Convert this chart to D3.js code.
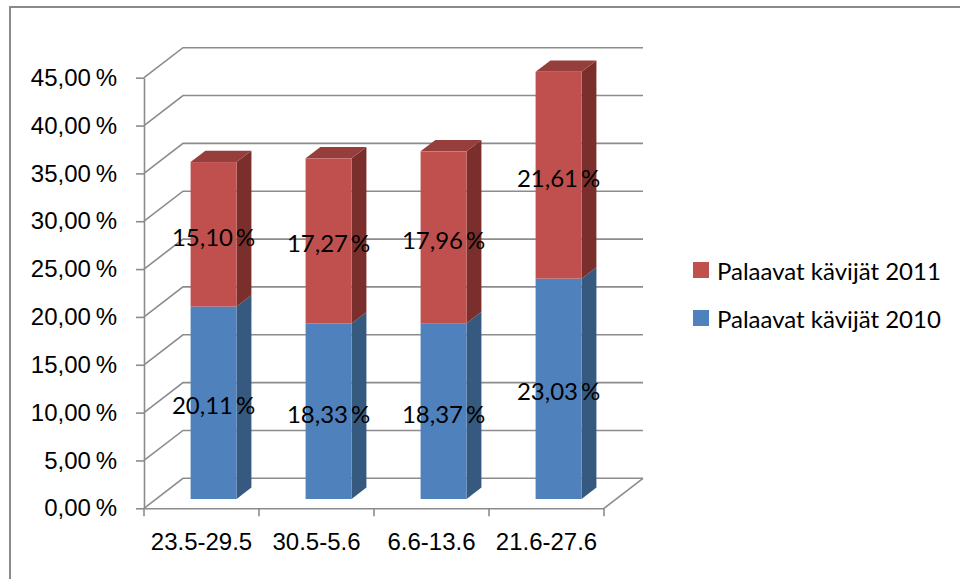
<!DOCTYPE html>
<html>
<head>
<meta charset="utf-8">
<script src="https://cdn.jsdelivr.net/npm/d3@7"></script>
<style>
  html, body { margin: 0; padding: 0; background: #fff; }
  svg { display: block; font-family: Lato, "Open Sans", sans-serif; }
</style>
</head>
<body>
<svg id="chart" width="960" height="579"></svg>
<script>
// Returning visitors per week, stacked by year
const categories = ["23.5-29.5", "30.5-5.6", "6.6-13.6", "21.6-27.6"];
const visitors2010 = [20.11, 18.33, 18.37, 23.03];
const visitors2011 = [15.10, 17.27, 17.96, 21.61];
const yTicks = [0, 5, 10, 15, 20, 25, 30, 35, 40, 45];
const seriesNames = ["Palaavat kävijät 2010", "Palaavat kävijät 2011"];

const colors = {
  blue:  { front: "#4f81bd", side: "#35597f", top: "#3e6696" },
  red:   { front: "#c0504d", side: "#7b2f2d", top: "#963e3b" }
};
const gridColor = "#8c8c8c";
const fontSize = 24;

const svg = d3.select("#chart");

// Outer chart frame
svg.append("rect")
  .attr("x", 10).attr("y", 7)
  .attr("width", 980).attr("height", 600)
  .attr("fill", "none")
  .attr("stroke", "#8a8a8a")
  .attr("stroke-width", 2);

// Oblique 3D projection: depth 0 = front plane, depth 1 = back wall
const DX = 39, DY = -30;
const x = d3.scaleBand().domain(categories).range([144, 604])
  .paddingInner(0.6).paddingOuter(0.3);
const y = d3.scaleLinear().domain([0, 45]).range([508.3, 77.7]);
const proj = (px, v, d) => [px + d * DX, y(v) + d * DY];

// Finnish percentage format with a narrow space before the sign
const fmt = v => d3.format(".2f")(v).replace(".", ",") + "\u2009%";

const walls = svg.append("g")
  .attr("fill", "none")
  .attr("stroke", gridColor)
  .attr("stroke-width", 1.6);

const x0 = x.range()[0], x1 = x.range()[1];

// Back wall gridlines and side wall diagonals
yTicks.forEach(t => {
  const a = proj(x0, t, 0), b = proj(x0, t, 1), c = proj(x1, t, 1);
  walls.append("path").attr("d", d3.line()([a, b, c]));
});
// Floor right edge
walls.append("path").attr("d", d3.line()([proj(x1, 0, 0), proj(x1, 0, 1)]));

// Stacked bars as prisms
const stackData = categories.map((c, i) => ({ cat: c, s2010: visitors2010[i], s2011: visitors2011[i] }));
const stacked = d3.stack().keys(["s2010", "s2011"])(stackData);
const segColors = [colors.blue, colors.red];

const D0 = 0.31, D1 = 0.69;
const bars = svg.append("g");

stacked.forEach((layer, li) => {
  const col = segColors[li];
  layer.forEach((seg, i) => {
    const cat = categories[i];
    const left = x(cat), right = x(cat) + x.bandwidth();
    const lo = seg[0], hi = seg[1];
    const g = bars.append("g");
    // right side face
    g.append("path")
      .attr("d", d3.line()([proj(right, lo, D0), proj(right, lo, D1), proj(right, hi, D1), proj(right, hi, D0)]) + "Z")
      .attr("fill", col.side);
    // top face (visible on the topmost segment)
    if (li === stacked.length - 1) {
      g.append("path")
        .attr("d", d3.line()([proj(left, hi, D0), proj(left, hi, D1), proj(right, hi, D1), proj(right, hi, D0)]) + "Z")
        .attr("fill", col.top);
    }
    // front face
    const p = proj(left, hi, D0), q = proj(right, lo, D0);
    g.append("rect")
      .attr("x", p[0]).attr("y", p[1])
      .attr("width", q[0] - p[0]).attr("height", q[1] - p[1])
      .attr("fill", col.front);
  });
});

// Value labels centred on each front segment
const labels = svg.append("g")
  .attr("font-size", fontSize)
  .attr("fill", "#000")
  .attr("text-anchor", "middle");
stacked.forEach(layer => {
  layer.forEach((seg, i) => {
    const cat = categories[i];
    const cx = x(cat) + x.bandwidth() / 2 + D0 * DX;
    const cy = (y(seg[0]) + y(seg[1])) / 2 + D0 * DY;
    labels.append("text")
      .attr("x", cx).attr("y", cy + 2)
      .attr("dominant-baseline", "central")
      .text(fmt(seg[1] - seg[0]));
  });
});

// Value axis
const yAxis = svg.append("g")
  .attr("transform", "translate(144,0)")
  .call(d3.axisLeft(y).tickValues(yTicks).tickSize(8).tickSizeOuter(0).tickPadding(19).tickFormat(fmt));
yAxis.select(".domain").attr("stroke", gridColor).attr("stroke-width", 1.6);
yAxis.selectAll(".tick line").attr("stroke", gridColor).attr("stroke-width", 1.6);
yAxis.selectAll(".tick text").attr("font-size", fontSize).attr("font-family", null).attr("fill", "#000");

// Category axis: labels centred, ticks on band boundaries
const xAxis = svg.append("g")
  .attr("transform", "translate(0,508.3)")
  .call(d3.axisBottom(x).tickSize(0).tickSizeOuter(0).tickPadding(25));
xAxis.select(".domain").attr("stroke", gridColor).attr("stroke-width", 1.6);
xAxis.selectAll(".tick text").attr("font-size", fontSize).attr("font-family", null).attr("fill", "#000");
const bounds = d3.range(categories.length + 1).map(i => x0 + i * x.step());
xAxis.selectAll(".bound").data(bounds).enter().append("line")
  .attr("class", "bound")
  .attr("x1", d => d).attr("x2", d => d)
  .attr("y1", 0).attr("y2", 8)
  .attr("stroke", gridColor).attr("stroke-width", 1.6);

// Legend (2011 listed first)
const legendItems = [
  { name: seriesNames[1], color: colors.red.front },
  { name: seriesNames[0], color: colors.blue.front }
];
const legend = svg.append("g").attr("transform", "translate(693,262)");
legendItems.forEach((it, i) => {
  const row = legend.append("g").attr("transform", `translate(0,${i * 48})`);
  row.append("rect").attr("width", 16).attr("height", 16).attr("fill", it.color);
  row.append("text")
    .attr("x", 24).attr("y", 8)
    .attr("dominant-baseline", "central")
    .attr("font-size", fontSize)
    .attr("fill", "#000")
    .text(it.name);
});
</script>
</body>
</html>
